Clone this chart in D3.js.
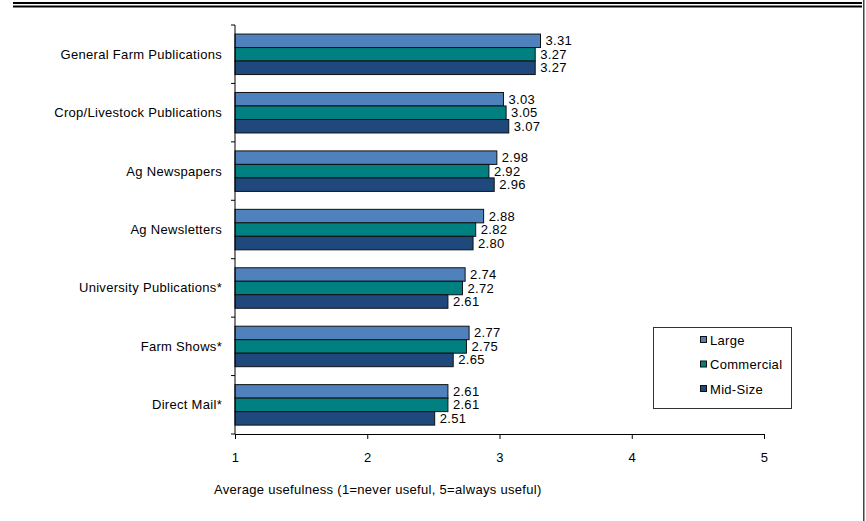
<!DOCTYPE html>
<html>
<head>
<meta charset="utf-8">
<script src="https://cdn.jsdelivr.net/npm/d3@7"></script>
<style>
  html, body { margin: 0; padding: 0; background: #fff; }
  svg { display: block; font-family: "Liberation Sans", Arial, sans-serif; }
  svg text { letter-spacing: 0.3px; }
</style>
</head>
<body>
<svg id="chart" width="866" height="521"></svg>
<script>
// Information sources, rated by farm size
const categories = [
  "General Farm Publications",
  "Crop/Livestock Publications",
  "Ag Newspapers",
  "Ag Newsletters",
  "University Publications*",
  "Farm Shows*",
  "Direct Mail*"
];
const seriesNames = ["Large", "Commercial", "Mid-Size"];
const large      = [3.31, 3.03, 2.98, 2.88, 2.74, 2.77, 2.61];
const commercial = [3.27, 3.05, 2.92, 2.82, 2.72, 2.75, 2.61];
const midSize    = [3.27, 3.07, 2.96, 2.80, 2.61, 2.65, 2.51];
const xTicks = [1, 2, 3, 4, 5];
const axisTitle = "Average usefulness (1=never useful, 5=always useful)";

const seriesValues = [large, commercial, midSize];
const colors = ["#4f81bd", "#008080", "#1f497d"];
const fontSize = 13;

const svg = d3.select("#chart");

// Header rules and right border
svg.append("rect").attr("x", 13).attr("y", 2).attr("width", 849).attr("height", 2).attr("fill", "#000");
svg.append("rect").attr("x", 13).attr("y", 5.5).attr("width", 849).attr("height", 2).attr("fill", "#000");
svg.append("rect").attr("x", 863).attr("y", 0).attr("width", 1.5).attr("height", 521).attr("fill", "#444");

const plot = { left: 235, right: 764, top: 25, bottom: 434 };

const x = d3.scaleLinear().domain([1, 5]).range([plot.left, plot.right]);
const y = d3.scaleBand().domain(categories).range([plot.top, plot.bottom]).padding(0);
const bw = y.bandwidth();
const sub = d3.scaleBand().domain(seriesNames).range([bw * 0.155, bw * 0.848]).padding(0);

// Bars
const rows = categories.map((c, i) => ({
  cat: c,
  vals: seriesNames.map((s, j) => ({ series: s, value: seriesValues[j][i], color: colors[j] }))
}));

const groups = svg.append("g").selectAll("g").data(rows).join("g")
  .attr("transform", d => `translate(0,${y(d.cat)})`);

groups.selectAll("rect").data(d => d.vals).join("rect")
  .attr("x", x(1))
  .attr("y", d => sub(d.series))
  .attr("width", d => x(d.value) - x(1))
  .attr("height", sub.bandwidth())
  .attr("fill", d => d.color)
  .attr("stroke", "#111")
  .attr("stroke-width", 1);

groups.selectAll("text").data(d => d.vals).join("text")
  .attr("x", d => x(d.value) + 5)
  .attr("y", d => sub(d.series) + sub.bandwidth() / 2 + 4.5)
  .attr("font-size", fontSize)
  .attr("fill", "#000")
  .text(d => d.value.toFixed(2));

// X axis
const xAxis = svg.append("g")
  .attr("transform", `translate(0,${plot.bottom})`)
  .call(d3.axisBottom(x).tickValues(xTicks).tickFormat(d3.format("d")).tickSize(5).tickSizeOuter(0).tickPadding(14));
xAxis.select(".domain").attr("stroke", "#000");
xAxis.selectAll("line").attr("stroke", "#000");
xAxis.selectAll("text").attr("font-size", fontSize).attr("fill", "#000")
  .attr("font-family", "'Liberation Sans', Arial, sans-serif");

// Y axis with ticks between categories
svg.append("line")
  .attr("x1", plot.left).attr("x2", plot.left)
  .attr("y1", plot.top).attr("y2", plot.bottom)
  .attr("stroke", "#000");
const boundaries = categories.map(c => y(c)).concat([plot.bottom]);
svg.append("g").selectAll("line").data(boundaries).join("line")
  .attr("x1", plot.left - 4).attr("x2", plot.left)
  .attr("y1", d => d).attr("y2", d => d)
  .attr("stroke", "#000");

svg.append("g").selectAll("text").data(categories).join("text")
  .attr("x", 222)
  .attr("y", d => y(d) + bw * 0.5 + 4.5)
  .attr("text-anchor", "end")
  .attr("font-size", fontSize)
  .attr("fill", "#000")
  .text(d => d);

// Axis title
svg.append("text")
  .attr("x", 214).attr("y", 494)
  .attr("font-size", fontSize)
  .attr("fill", "#000")
  .text(axisTitle);

// Legend
const legend = svg.append("g").attr("transform", "translate(653,327)");
legend.append("rect").attr("x", 0.5).attr("y", 0.5).attr("width", 138).attr("height", 81)
  .attr("fill", "#fff").attr("stroke", "#333");
const items = legend.selectAll("g").data(seriesNames).join("g")
  .attr("transform", (d, i) => `translate(47,${13 + i * 24.5})`);
items.append("rect").attr("x", 0.5).attr("y", -3.5).attr("width", 6).attr("height", 6)
  .attr("fill", (d, i) => colors[i]).attr("stroke", "#111");
items.append("text").attr("x", 10).attr("y", 4.5).attr("font-size", fontSize).attr("fill", "#000").text(d => d);
</script>
</body>
</html>
